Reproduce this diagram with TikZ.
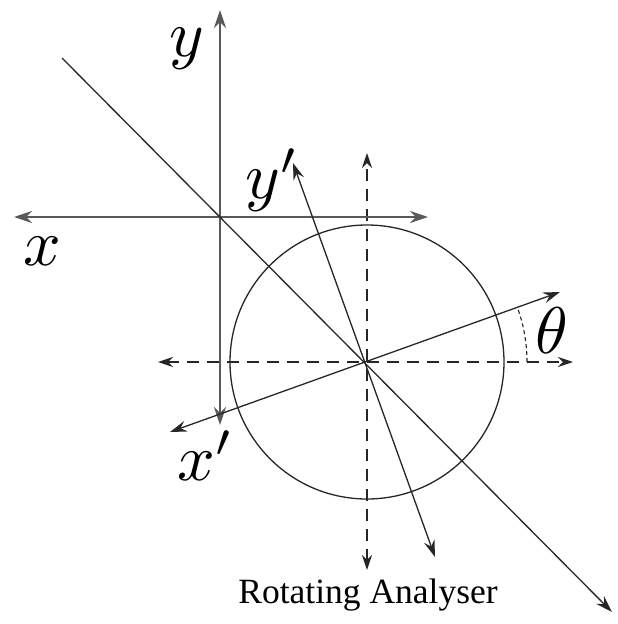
\documentclass[tikz,border=0pt]{standalone}
\usepackage{fontspec}
\newfontfamily\capfont{Liberation Serif}
\usetikzlibrary{arrows.meta,calc}
\begin{document}
\begin{tikzpicture}[x=1pt,y=-1pt,
  axisline/.style={draw=black!65,line width=2pt,{Stealth[length=18pt,width=12pt,inset=6pt]}-{Stealth[length=18pt,width=12pt,inset=6pt]}},
  thinline/.style={draw=black!85,line width=1.3pt},
  dashline/.style={thinline,dash pattern=on 12pt off 8pt,{Stealth[length=15pt,width=10pt,inset=5pt]}-{Stealth[length=15pt,width=10pt,inset=5pt]}},
  rotline/.style={thinline,{Stealth[length=17pt,width=11pt,inset=6pt]}-{Stealth[length=17pt,width=11pt,inset=6pt]}},
  mathlbl/.style={inner sep=0pt,anchor=base,scale=6.6}
]
\useasboundingbox (0,0) rectangle (618,624);
% named points
\coordinate (O) at (220,217);
\coordinate (C) at (367,362);
\coordinate (ytop) at (220,10);
\coordinate (ybot) at (220,425);
\coordinate (xleft) at (14,217);
\coordinate (xright) at (428,217);
\coordinate (dstart) at (62,58);
\coordinate (dend) at (612,612);
\coordinate (vtop) at (367,153);
\coordinate (vbot) at (367,570);
\coordinate (hleft) at (158,362);
\coordinate (hright) at (573,362);
\coordinate (xpl) at (170,432);
\coordinate (xpr) at (560,292);
\coordinate (ypt) at (293,163);
\coordinate (ypb) at (435,557);
\coordinate (arcstart) at ($(C)+(0:160)$);
% circle
\draw[thinline] (C) circle (137);
% dashed axes
\draw[dashline] (vbot) -- (vtop);
\draw[dashline] (hleft) -- (hright);
% fixed axes
\draw[axisline] (ybot) -- (ytop);
\draw[axisline] (xleft) -- (xright);
% diagonal beam
\draw[thinline,-{Stealth[length=17pt,width=11pt,inset=6pt]}] (dstart) -- (dend);
% rotated axes
\draw[rotline] (xpl) -- (xpr);
\draw[rotline] (ypb) -- (ypt);
% angle arc
\draw[thinline,line width=1.1pt,dash pattern=on 4pt off 3pt] (arcstart) arc[start angle=0,end angle=-20,radius=160];
% labels
\node[mathlbl] (ly) at (187,56) {$y$};
\node[mathlbl] (lx) at (42,265) {$x$};
\node[mathlbl] (lyp) at (272,198) {$y'$};
\node[mathlbl] (lxp) at (206,480) {$x'$};
\node[mathlbl] (lth) at (552,353) {$\theta$};
\node[inner sep=0pt,anchor=base,font=\capfont\fontsize{35.5}{40}\selectfont] (cap) at (368,603) {Rotating Analyser};
\end{tikzpicture}
\end{document}
